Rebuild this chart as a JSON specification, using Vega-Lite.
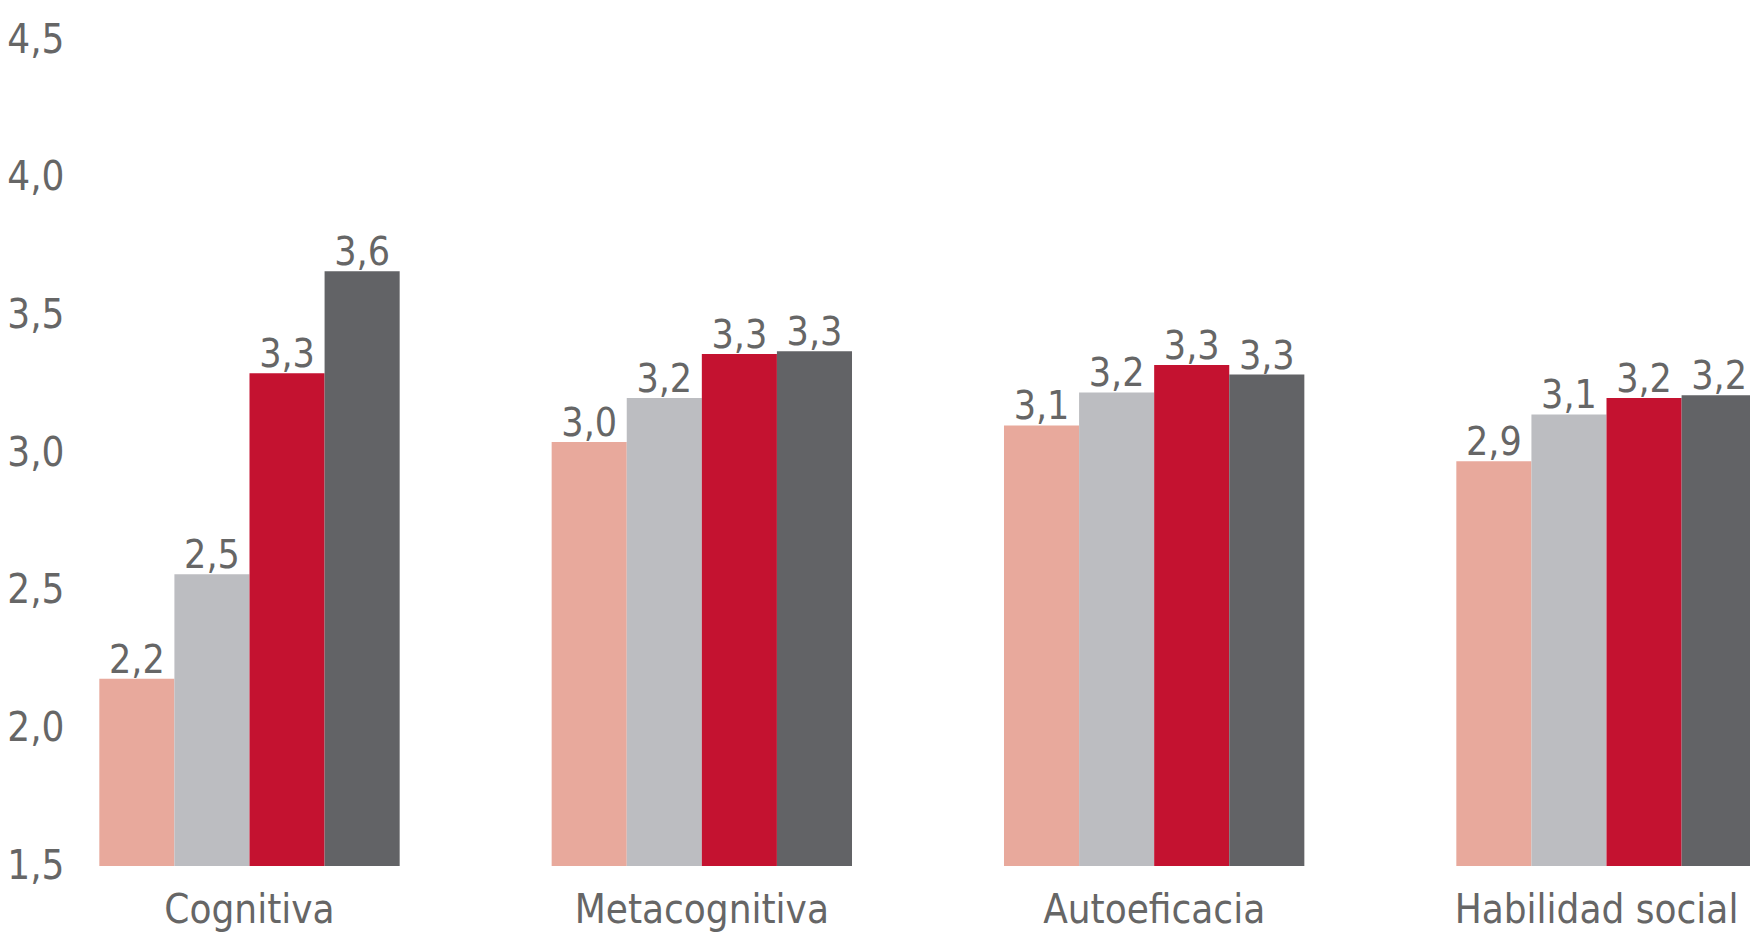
{
  "$schema": "https://vega.github.io/schema/vega-lite/v6.json",
  "width": 1714,
  "height": 826,
  "autosize": {"type": "none"},
  "padding": {"left": 71, "top": 40, "right": 0, "bottom": 77},
  "background": "#ffffff",
  "config": {
    "view": {"stroke": null},
    "font": "DejaVu Sans Condensed, Roboto Condensed, Open Sans Condensed, Roboto"
  },
  "data": {
    "values": [
      {"categoria": "Cognitiva", "serie": "A", "valor": 2.18, "etiqueta": "2,2"},
      {"categoria": "Cognitiva", "serie": "B", "valor": 2.56, "etiqueta": "2,5"},
      {"categoria": "Cognitiva", "serie": "C", "valor": 3.29, "etiqueta": "3,3"},
      {"categoria": "Cognitiva", "serie": "D", "valor": 3.66, "etiqueta": "3,6"},
      {"categoria": "Metacognitiva", "serie": "A", "valor": 3.04, "etiqueta": "3,0"},
      {"categoria": "Metacognitiva", "serie": "B", "valor": 3.20, "etiqueta": "3,2"},
      {"categoria": "Metacognitiva", "serie": "C", "valor": 3.36, "etiqueta": "3,3"},
      {"categoria": "Metacognitiva", "serie": "D", "valor": 3.37, "etiqueta": "3,3"},
      {"categoria": "Autoeficacia", "serie": "A", "valor": 3.10, "etiqueta": "3,1"},
      {"categoria": "Autoeficacia", "serie": "B", "valor": 3.22, "etiqueta": "3,2"},
      {"categoria": "Autoeficacia", "serie": "C", "valor": 3.32, "etiqueta": "3,3"},
      {"categoria": "Autoeficacia", "serie": "D", "valor": 3.285, "etiqueta": "3,3"},
      {"categoria": "Habilidad social", "serie": "A", "valor": 2.97, "etiqueta": "2,9"},
      {"categoria": "Habilidad social", "serie": "B", "valor": 3.14, "etiqueta": "3,1"},
      {"categoria": "Habilidad social", "serie": "C", "valor": 3.20, "etiqueta": "3,2"},
      {"categoria": "Habilidad social", "serie": "D", "valor": 3.21, "etiqueta": "3,2"}
    ]
  },
  "encoding": {
    "x": {
      "field": "categoria",
      "type": "nominal",
      "sort": ["Cognitiva", "Metacognitiva", "Autoeficacia", "Habilidad social"],
      "scale": {"paddingInner": 0.336, "paddingOuter": 0.0626},
      "axis": {
        "title": null,
        "labelAngle": 0,
        "domain": false,
        "ticks": false,
        "labelFontSize": 40,
        "labelFontWeight": 300,
        "labelColor": "#666666",
        "labelLimit": 0,
        "labelPadding": 24,
        "labelOffset": {"condition": {"test": "datum.value === 'Habilidad social'", "value": -10}, "value": 0}
      }
    },
    "xOffset": {
      "field": "serie",
      "type": "nominal",
      "sort": ["A", "B", "C", "D"],
      "scale": {"paddingInner": 0, "paddingOuter": 0}
    },
    "y": {
      "field": "valor",
      "type": "quantitative",
      "scale": {"domain": [1.5, 4.5], "zero": false, "nice": false},
      "axis": {
        "title": null,
        "values": [1.5, 2, 2.5, 3, 3.5, 4, 4.5],
        "labelExpr": "replace(format(datum.value, '.1f'), '.', ',')",
        "grid": false,
        "domain": false,
        "ticks": false,
        "labelFontSize": 40,
        "labelFontWeight": 300,
        "labelColor": "#666666",
        "labelPadding": 7
      }
    }
  },
  "layer": [
    {
      "mark": {"type": "bar"},
      "encoding": {
        "y2": {"datum": 1.5},
        "color": {
          "field": "serie",
          "type": "nominal",
          "scale": {"domain": ["A", "B", "C", "D"], "range": ["#E8A99C", "#BCBDC1", "#C41230", "#626366"]},
          "legend": null
        }
      }
    },
    {
      "mark": {"type": "text", "baseline": "alphabetic", "dy": -6, "fontSize": 39, "fontWeight": 300, "color": "#666666"},
      "encoding": {
        "text": {"field": "etiqueta", "type": "nominal"}
      }
    }
  ]
}
